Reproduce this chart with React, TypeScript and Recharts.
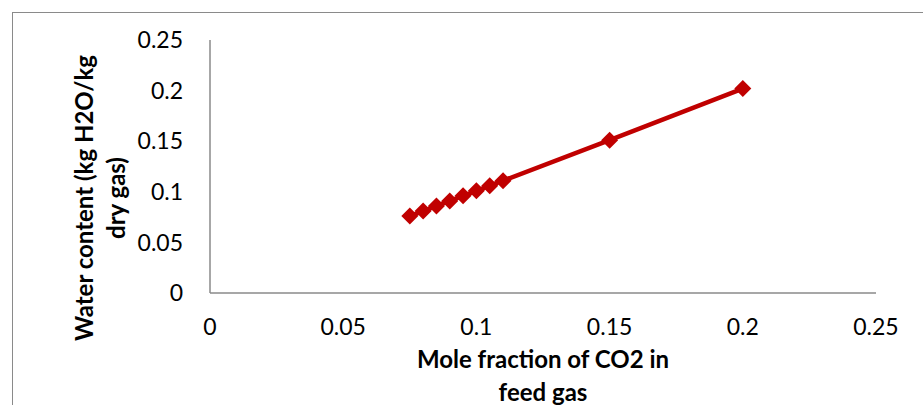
import { LineChart, Line, XAxis, YAxis, Label } from "recharts";

const co2Fraction = [0.075, 0.08, 0.085, 0.09, 0.095, 0.1, 0.105, 0.11, 0.15, 0.2];
const waterContent = [0.076, 0.081, 0.086, 0.091, 0.096, 0.101, 0.106, 0.111, 0.151, 0.202];
const xTicks = [0, 0.05, 0.1, 0.15, 0.2, 0.25];
const yTicks = [0, 0.05, 0.1, 0.15, 0.2, 0.25];

const data = co2Fraction.map((x, i) => ({ x, y: waterContent[i] }));

const FONT = "Lato, 'Open Sans', sans-serif";
const RED = "#C00000";
const AXIS = "#8a8a8a";

function Diamond(props: any) {
  const { cx, cy, index } = props;
  if (cx == null || cy == null) return null;
  const r = 8.5;
  return (
    <polygon
      key={index}
      points={`${cx},${cy - r} ${cx + r},${cy} ${cx},${cy + r} ${cx - r},${cy}`}
      fill={RED}
    />
  );
}

function XTitle(props: any) {
  const vb = props.viewBox || {};
  const cx = vb.x + vb.width / 2;
  return (
    <text textAnchor="middle" fontFamily={FONT} fontWeight="bold" fontSize={24} fill="#000">
      <tspan x={cx} y={368}>Mole fraction of CO2 in</tspan>
      <tspan x={cx} y={401}>feed gas</tspan>
    </text>
  );
}

function YTitle() {
  const cy = 198;
  return (
    <g>
      <text transform={`translate(93 ${cy}) rotate(-90)`} textAnchor="middle" fontFamily={FONT} fontWeight="bold" fontSize={24} fill="#000">
        Water content (kg H2O/kg
      </text>
      <text transform={`translate(125 ${cy}) rotate(-90)`} textAnchor="middle" fontFamily={FONT} fontWeight="bold" fontSize={24} fill="#000">
        dry gas)
      </text>
    </g>
  );
}

export default function App() {
  return (
    <div style={{ position: "absolute", left: 0, top: 0, width: 923, height: 405, background: "#fff" }}>
      <div
        style={{
          position: "absolute",
          left: 12,
          top: 12,
          width: 920,
          height: 400,
          borderTop: "1px solid #8a8a8a",
          borderLeft: "1px solid #8a8a8a",
        }}
      />
      <LineChart width={923} height={405} data={data} margin={{ top: 40, right: 47, left: 0, bottom: 0 }}>
        <XAxis
          dataKey="x"
          type="number"
          domain={[0, 0.25]}
          ticks={xTicks}
          height={112}
          tickLine={false}
          tickSize={0}
          tickMargin={26}
          stroke={AXIS}
          strokeWidth={1.5}
          tick={{ fontSize: 23, fill: "#000", fontFamily: FONT }}
        >
          <Label content={<XTitle />} />
        </XAxis>
        <YAxis
          dataKey="y"
          type="number"
          domain={[0, 0.25]}
          ticks={yTicks}
          width={210}
          tickLine={false}
          tickSize={0}
          tickMargin={27}
          stroke={AXIS}
          strokeWidth={1.5}
          tick={{ fontSize: 23, fill: "#000", fontFamily: FONT }}
        >
          <Label content={<YTitle />} />
        </YAxis>
        <Line
          type="linear"
          dataKey="y"
          stroke={RED}
          strokeWidth={4.5}
          dot={Diamond}
          activeDot={false}
          isAnimationActive={false}
        />
      </LineChart>
    </div>
  );
}
